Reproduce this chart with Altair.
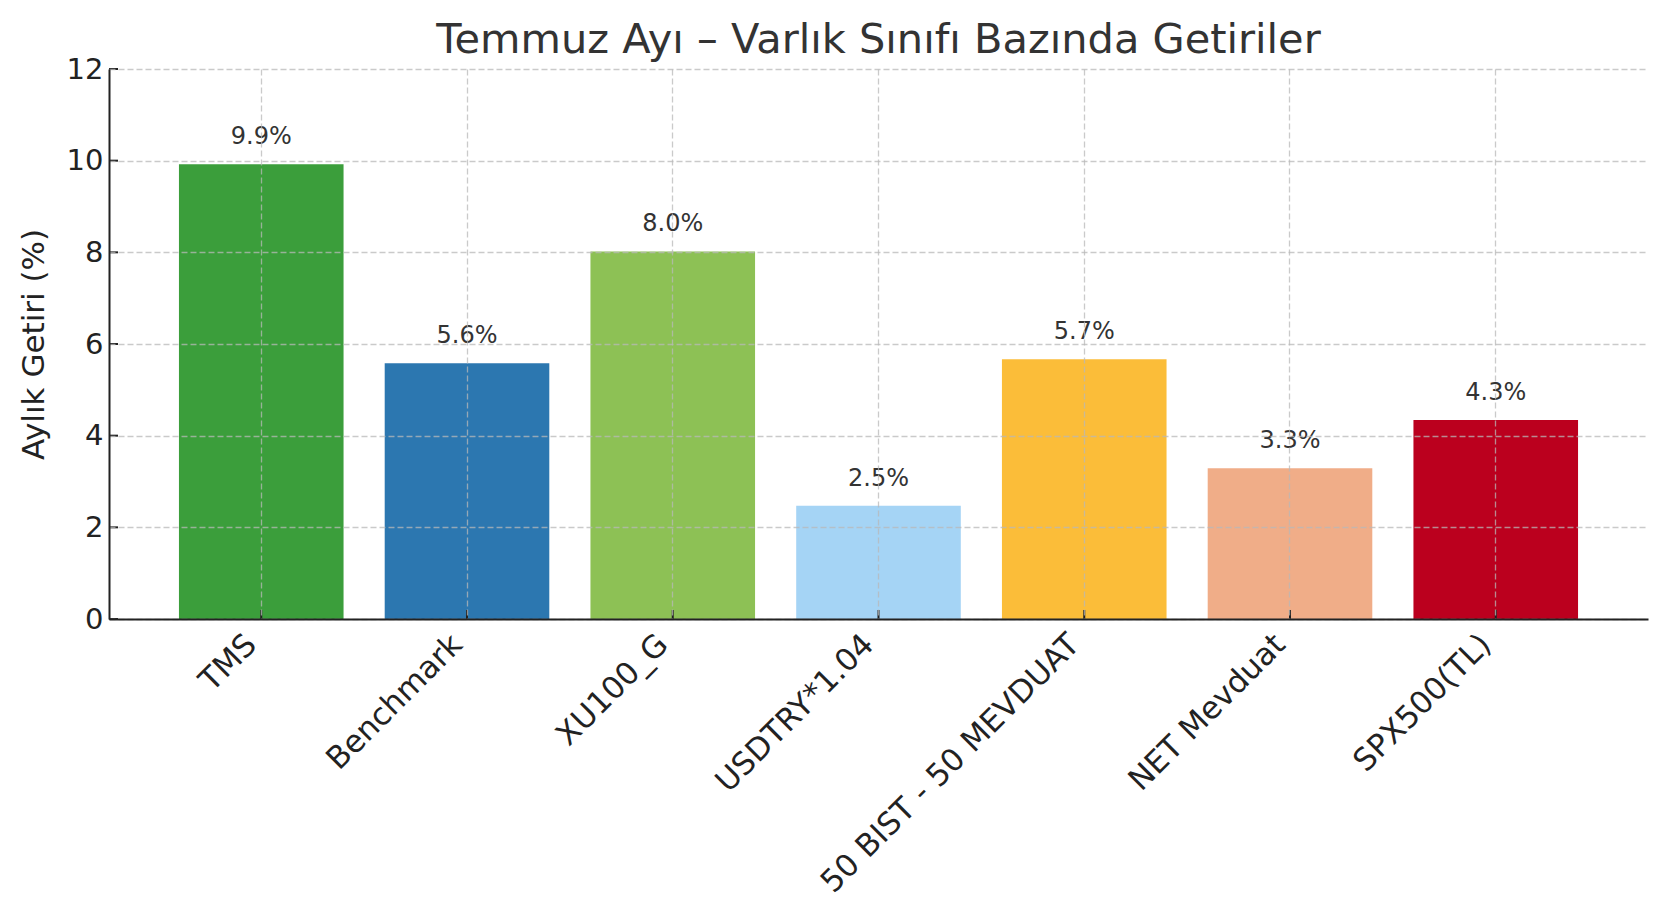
import altair as alt
import pandas as pd

categories = ["TMS", "Benchmark", "XU100_G", "USDTRY*1.04",
              "50 BIST - 50 MEVDUAT", "NET Mevduat", "SPX500(TL)"]
values = [9.92, 5.58, 8.02, 2.47, 5.67, 3.29, 4.34]
colors = ["#3b9e3b", "#2c77b0", "#8dc155", "#a5d4f5",
          "#fbbd39", "#f0ad88", "#bb001e"]
y_ticks = [0, 2, 4, 6, 8, 10, 12]

FONT = "DejaVu Sans"
W, H = 1539, 550

df = pd.DataFrame({"cat": categories, "val": values})
tdf = pd.DataFrame({"t": y_ticks})

x_enc = alt.X(
    "cat:N", sort=categories,
    scale=alt.Scale(paddingInner=0.2, paddingOuter=0.34),
    axis=alt.Axis(
        title=None, labelAngle=-45, labelAlign="right", labelBaseline="top",
        labelFontSize=31, labelFont=FONT, labelColor="#222", labelLimit=0,
        labelPadding=10, ticks=False, tickSize=0, bandPosition=0.5,
        grid=True, gridColor="#b8b8b8", gridOpacity=0.75, gridDash=[6, 3],
        gridWidth=1.3, domainColor="#222", domainWidth=2, zindex=1,
        labelOffset=-20,
    ),
)
y_enc = alt.Y(
    "val:Q",
    scale=alt.Scale(domain=[0, 12], nice=False),
    axis=alt.Axis(
        title="Aylık Getiri (%)", titleFontSize=31, titleFont=FONT,
        titleFontWeight="normal", titleColor="#222", titleAngle=-90,
        titleX=-75, titleY=H / 2, titleAlign="center", titleBaseline="middle",
        values=y_ticks, labelFontSize=29, labelFont=FONT, labelColor="#222",
        labelPadding=6, ticks=False, tickSize=0,
        grid=True, gridColor="#b8b8b8", gridOpacity=0.75, gridDash=[6, 3],
        gridWidth=1.3, domainColor="#222", domainWidth=2, zindex=1,
    ),
)

base = alt.Chart(df)

bars = base.mark_bar().encode(
    x=x_enc, y=y_enc,
    color=alt.Color("cat:N", scale=alt.Scale(domain=categories, range=colors),
                    legend=None),
)

labels = base.transform_calculate(
    lab="format(datum.val, '.1f') + '%'"
).mark_text(
    dy=-27, fontSize=24, font=FONT, color="#333", baseline="middle"
).encode(
    x=alt.X("cat:N", sort=categories), y=alt.Y("val:Q"), text="lab:N"
)

xticks = base.mark_rule(color="#222", strokeWidth=2).encode(
    x=alt.X("cat:N", sort=categories), y=alt.value(H), y2=alt.value(H - 9)
)

yticks = alt.Chart(tdf).mark_rule(color="#222", strokeWidth=2).encode(
    y=alt.Y("t:Q"), x=alt.value(0), x2=alt.value(9)
)

chart = alt.layer(bars, labels, xticks, yticks).properties(
    width=W, height=H,
    title=alt.TitleParams(
        "Temmuz Ayı – Varlık Sınıfı Bazında Getiriler",
        fontSize=41.5, font=FONT, fontWeight="normal", color="#333",
        anchor="middle", offset=12, dy=18,
    ),
    autosize=alt.AutoSizeParams(type="none"),
    padding={"left": 101, "top": 61, "right": 5, "bottom": 280},
).configure_view(strokeWidth=0)

chart.save("out.html", embed_options={"renderer": "svg", "actions": False})
